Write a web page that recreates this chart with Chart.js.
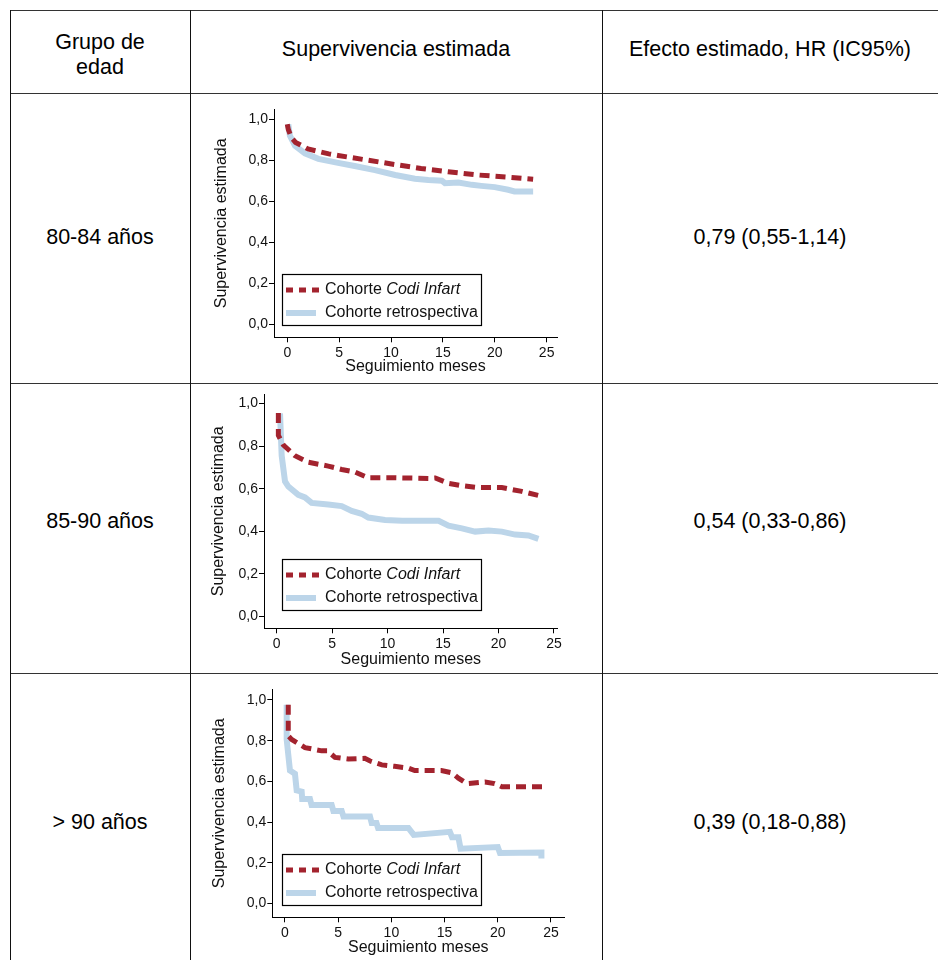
<!DOCTYPE html>
<html><head><meta charset="utf-8">
<script src="https://cdn.jsdelivr.net/npm/chart.js@4"></script>
<style>
html,body{margin:0;padding:0;background:#fff;}
#page{position:relative;width:938px;height:960px;overflow:hidden;font-family:"Liberation Sans",Arial,sans-serif;color:#000;}
.hl{position:absolute;height:0;border-top:1.5px solid #333;}
.vl{position:absolute;width:0;border-left:1.5px solid #111;}
.cell{position:absolute;text-align:center;font-size:21.5px;line-height:25px;white-space:nowrap;}
canvas{position:absolute;left:195px;}
</style></head>
<body>
<div id="page">
  <div class="hl" style="left:10px;top:10px;width:928px"></div>
  <div class="hl" style="left:10px;top:93px;width:928px"></div>
  <div class="hl" style="left:10px;top:383px;width:928px"></div>
  <div class="hl" style="left:10px;top:673px;width:928px"></div>
  <div class="vl" style="left:10px;top:10px;height:950px"></div>
  <div class="vl" style="left:190px;top:10px;height:950px"></div>
  <div class="vl" style="left:602px;top:10px;height:950px"></div>

  <div class="cell" id="h0" style="left:10px;width:180px;top:30px"></div>
  <div class="cell" id="h1" style="left:190px;width:412px;top:37px"></div>
  <div class="cell" id="h2" style="left:602px;width:336px;top:37px"></div>

  <div class="cell" id="g0" style="left:10px;width:180px;top:225px"></div>
  <div class="cell" id="g1" style="left:10px;width:180px;top:509px"></div>
  <div class="cell" id="g2" style="left:10px;width:180px;top:810px"></div>
  <div class="cell" id="r0" style="left:602px;width:336px;top:225px"></div>
  <div class="cell" id="r1" style="left:602px;width:336px;top:509px"></div>
  <div class="cell" id="r2" style="left:602px;width:336px;top:810px"></div>

  <canvas id="c1" width="380" height="280" style="top:100px"></canvas>
  <canvas id="c2" width="380" height="288" style="top:385px"></canvas>
  <canvas id="c3" width="380" height="281" style="top:680px"></canvas>
</div>
<script>
// ---------- data ----------
const headers = ['Grupo de\nedad', 'Supervivencia estimada', 'Efecto estimado, HR (IC95%)'];
const groupLabels = ['80-84 años', '85-90 años', '> 90 años'];
const hrLabels = ['0,79 (0,55-1,14)', '0,54 (0,33-0,86)', '0,39 (0,18-0,88)'];
const seriesCodiPrefix = 'Cohorte ';
const seriesCodiName = 'Codi Infart';
const seriesRetroName = 'Cohorte retrospectiva';
const xTitle = 'Seguimiento meses';
const yTitle = 'Supervivencia estimada';
const xTicks = [0, 5, 10, 15, 20, 25];
const yTicks = [0, 0.2, 0.4, 0.6, 0.8, 1.0];

// 80-84 años
const g1CodiT = [0, 0.1, 0.4, 0.8, 2, 4, 4.9, 7.8, 10.4, 12.9, 15.5, 18.4, 21.3, 23.7];
const g1CodiS = [0.975, 0.95, 0.91, 0.887, 0.855, 0.831, 0.823, 0.80, 0.779, 0.76, 0.744, 0.728, 0.717, 0.707];
const g1RetroT = [0.1, 0.25, 0.75, 1.7, 3.0, 4.9, 6.5, 8.45, 10.4, 12.3, 13.6, 14.9, 15.2, 16.5, 17.8, 18.7, 20.0, 21.3, 21.9, 23.7];
const g1RetroS = [0.975, 0.92, 0.871, 0.834, 0.807, 0.787, 0.772, 0.752, 0.728, 0.71, 0.704, 0.70, 0.688, 0.691, 0.68, 0.675, 0.669, 0.656, 0.648, 0.648];

// 85-90 años
const g2CodiT = [0.15, 0.15, 0.6, 1.65, 2.85, 4.65, 5.86, 7.06, 8.26, 10.7, 13.7, 14.3, 15.5, 16.7, 18.2, 20.3, 22.1, 23.9];
const g2CodiS = [0.955, 0.85, 0.805, 0.755, 0.724, 0.706, 0.69, 0.678, 0.651, 0.651, 0.648, 0.65, 0.625, 0.614, 0.605, 0.605, 0.587, 0.564];
const g2RetroT = [0.3, 0.45, 0.75, 1.05, 1.95, 2.55, 3.15, 4.65, 5.86, 6.76, 7.66, 8.26, 9.77, 11.3, 14.6, 15.5, 16.7, 17.9, 19.1, 20.3, 21.5, 22.7, 23.6];
const g2RetroS = [0.954, 0.755, 0.634, 0.61, 0.571, 0.559, 0.533, 0.525, 0.518, 0.495, 0.482, 0.464, 0.453, 0.449, 0.449, 0.426, 0.413, 0.398, 0.403, 0.398, 0.384, 0.38, 0.364];

// > 90 años
const g3CodiT = [0.31, 0.31, 0.63, 1.88, 3.45, 4.0, 4.7, 5.95, 7.5, 8.0, 9.1, 10.3, 11.6, 12.2, 14.7, 15.7, 16.3, 17.1, 18.8, 19.7, 20.4, 24.4];
const g3CodiS = [0.976, 0.823, 0.806, 0.766, 0.75, 0.75, 0.718, 0.71, 0.713, 0.70, 0.681, 0.674, 0.665, 0.653, 0.653, 0.642, 0.616, 0.589, 0.597, 0.589, 0.573, 0.573];
const g3RetroT = [0.16, 0.16, 0.47, 0.94, 1.1, 1.57, 1.62, 2.35, 2.5, 4.39, 4.55, 5.33, 5.5, 7.99, 8.15, 8.6, 8.75, 11.6, 12.1, 15.5, 15.7, 16.3, 16.5, 20.0, 20.2, 24.1, 24.1];
const g3RetroS = [0.976, 0.806, 0.653, 0.637, 0.556, 0.55, 0.513, 0.513, 0.484, 0.484, 0.455, 0.455, 0.427, 0.427, 0.395, 0.395, 0.371, 0.371, 0.337, 0.352, 0.326, 0.326, 0.269, 0.277, 0.248, 0.25, 0.221];

// ---------- text ----------
document.getElementById('h0').innerHTML = headers[0].replace('\n', '<br>');
document.getElementById('h1').textContent = headers[1];
document.getElementById('h2').textContent = headers[2];
groupLabels.forEach((g, i) => document.getElementById('g' + i).textContent = g);
hrLabels.forEach((r, i) => document.getElementById('r' + i).textContent = r);

// ---------- charts ----------
const FONT = '"Liberation Sans", Arial, sans-serif';
const RED = '#a3232e';
const BLUE = '#bcd5e9';
const toPts = (t, s) => t.map((x, i) => ({x: x, y: s[i]}));
const fmt = v => v.toFixed(1).replace('.', ',');

const legendPlugin = {
  id: 'kmLegend',
  afterDatasetsDraw(chart) {
    const ctx = chart.ctx;
    const bx = 87, by = 174, bw = 199, bh = 51;
    ctx.save();
    ctx.fillStyle = '#fff';
    ctx.fillRect(bx, by, bw, bh);
    ctx.strokeStyle = '#000';
    ctx.lineWidth = 1.2;
    ctx.strokeRect(bx + 0.5, by + 0.5, bw, bh);
    // red sample
    ctx.strokeStyle = RED; ctx.lineWidth = 5; ctx.setLineDash([7, 6]);
    ctx.beginPath(); ctx.moveTo(91, by + 16); ctx.lineTo(124, by + 16); ctx.stroke();
    // blue sample
    ctx.setLineDash([]); ctx.strokeStyle = BLUE; ctx.lineWidth = 6;
    ctx.beginPath(); ctx.moveTo(91, by + 39); ctx.lineTo(121, by + 39); ctx.stroke();
    ctx.fillStyle = '#111';
    ctx.textBaseline = 'middle';
    ctx.font = '16px ' + FONT;
    ctx.fillText(seriesCodiPrefix, 130, by + 16);
    const w = ctx.measureText(seriesCodiPrefix).width;
    ctx.font = 'italic 16px ' + FONT;
    ctx.fillText(seriesCodiName, 130 + w, by + 16);
    ctx.font = '16px ' + FONT;
    ctx.fillText(seriesRetroName, 130, by + 39);
    ctx.restore();
  }
};

function makeChart(id, codi, retro, g) {
  new Chart(document.getElementById(id), {
    type: 'line',
    data: {
      datasets: [
        {label: seriesCodiPrefix + seriesCodiName, data: codi, borderColor: RED, borderWidth: 5,
         borderDash: [10, 6], pointRadius: 0, tension: 0, fill: false},
        {label: seriesRetroName, data: retro, borderColor: BLUE, borderWidth: 6,
         pointRadius: 0, tension: 0, fill: false}
      ]
    },
    options: {
      responsive: false, animation: false, devicePixelRatio: 1,
      layout: {autoPadding: false, padding: {left: 0, top: g.padTop, right: g.padRight, bottom: 0}},
      plugins: {legend: {display: false}, tooltip: {enabled: false}},
      scales: {
        x: {
          type: 'linear', min: g.xMin, max: g.xMax,
          afterBuildTicks: s => { s.ticks = xTicks.map(v => ({value: v})); },
          afterFit: s => { s.height = g.xH; },
          border: {display: true, color: '#000', width: 1},
          grid: {display: true, drawOnChartArea: false, drawTicks: true, tickLength: 5, color: '#000'},
          ticks: {autoSkip: false, maxRotation: 0, padding: 2, color: '#111', font: {family: FONT, size: 14},
                  callback: v => String(v)},
          title: {display: true, text: xTitle, color: '#111', font: {family: FONT, size: 16, lineHeight: 1.2},
                  padding: {top: 0, bottom: g.xTitlePad}}
        },
        y: {
          type: 'linear', min: g.yMin, max: g.yMax,
          afterBuildTicks: s => { s.ticks = yTicks.map(v => ({value: v})); },
          afterFit: s => { s.width = g.yW; },
          border: {display: true, color: '#000', width: 1},
          grid: {display: true, drawOnChartArea: false, drawTicks: true, tickLength: 5, color: '#000'},
          ticks: {padding: 1, color: '#111', font: {family: FONT, size: 14}, callback: v => fmt(v)},
          title: {display: true, text: yTitle, color: '#111', font: {family: FONT, size: 16, lineHeight: 1.2},
                  padding: {top: g.yTitlePad, bottom: 0}}
        }
      }
    },
    plugins: [legendPlugin]
  });
}

makeChart('c1', toPts(g1CodiT, g1CodiS), toPts(g1RetroT, g1RetroS),
  {padTop: 4.7, padRight: 18, xH: 42.7, yW: 79, xTitlePad: 4, yTitlePad: 17.1,
   xMin: -1.28, xMax: 26.0, yMin: -0.0635, yMax: 1.048});
makeChart('c2', toPts(g2CodiT, g2CodiS), toPts(g2RetroT, g2RetroS),
  {padTop: 4, padRight: 17.3, xH: 44.7, yW: 69, xTitlePad: 3.7, yTitlePad: 14.4,
   xMin: -1.145, xMax: 25.34, yMin: -0.0565, yMax: 1.043});
makeChart('c3', toPts(g3CodiT, g3CodiS), toPts(g3RetroT, g3RetroS),
  {padTop: 6, padRight: 10.7, xH: 43.7, yW: 77.3, xTitlePad: 3.7, yTitlePad: 15.4,
   xMin: -1.19, xMax: 26.25, yMin: -0.068, yMax: 1.052});
</script>
</body></html>
